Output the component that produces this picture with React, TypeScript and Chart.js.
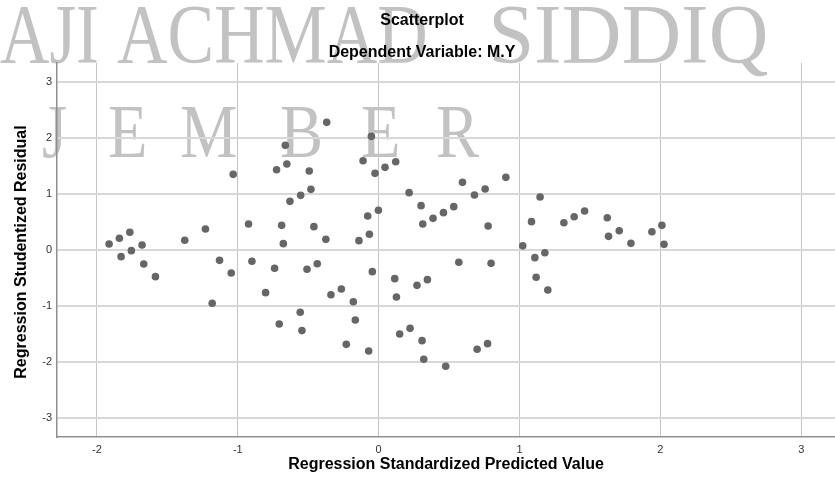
import React, { useEffect, useRef } from "react";
import { Chart, registerables } from "chart.js";

Chart.register(...registerables);

// ---- data ----
const X_VALUES = [
  -1.914, -1.841, -1.767, -1.68, -1.829, -1.756, -1.377, -1.23, -1.033, -0.924,
  -0.725, -0.663, -0.652, -0.493, -0.481, -0.554, -0.63, -0.689, -0.677, -0.46,
  -0.375, -0.369, -1.13, -0.9, -1.668, -1.585, -1.047, -1.182, -0.739, -0.803,
  -0.706, -0.509, -0.436, -0.557, -0.545, -0.052, -0.111, -0.026, 0.045, 0.121,
  -0.14, -0.066, -0.078, -0.002, 0.216, 0.301, 0.313, 0.386, 0.46, 0.533,
  0.595, 0.68, 0.756, 0.903, 0.777, 1.146, 1.085, 1.023, 1.109, 1.18,
  1.315, 1.388, 1.462, 1.623, 1.632, 1.708, 1.791, 1.94, 2.011, 2.026,
  -0.045, -0.339, -0.265, -0.18, -0.166, -0.23, -0.071, 0.114, 0.126, 0.272,
  0.346, 0.149, 0.223, 0.308, 0.32, 0.476, 0.569, 0.798, 0.699, 0.773,
  1.118, 1.201,
];
const Y_VALUES = [
  0.107, 0.21, 0.316, 0.09, -0.119, -0.012, 0.173, 0.375, 1.351, 0.464,
  1.434, 1.869, 1.536, 1.41, 1.083, 0.976, 0.869, 0.44, 0.113, 0.417,
  0.19, 2.28, -0.185, -0.202, -0.25, -0.476, -0.41, -0.952, -0.327, -0.762,
  -1.321, -0.345, -0.245, -1.113, -1.44, 2.03, 1.595, 1.369, 1.476, 1.577,
  0.167, 0.28, 0.607, 0.709, 1.024, 0.792, 0.464, 0.565, 0.667, 0.774,
  1.208, 0.982, 1.089, 1.298, 0.429, 0.946, 0.506, 0.074, -0.137, -0.048,
  0.488, 0.595, 0.696, 0.577, 0.244, 0.345, 0.119, 0.327, 0.44, 0.101,
  -0.387, -0.798, -0.696, -0.923, -1.25, -1.685, -1.804, -0.512, -0.839, -0.631,
  -0.53, -1.5, -1.399, -1.619, -1.952, -2.077, -0.22, -0.238, -1.774, -1.673,
  -0.488, -0.714,
];
const X_TICKS = [-2, -1, 0, 1, 2, 3];
const Y_TICKS = [-3, -2, -1, 0, 1, 2, 3];
const X_MIN = -2.284;
const X_MAX = 3.24;
const Y_MIN = -3.34;
const Y_MAX = 3.34;

const TITLE_LINES = ["Scatterplot", "Dependent Variable: M.Y"];
const X_TITLE = "Regression Standardized Predicted Value";
const Y_TITLE = "Regression Studentized Residual";
const WATERMARK_WORDS = ["AJI", "ACHMAD", "SIDDIQ"];
const WATERMARK_LINE2 = ["J", "E", "M", "B", "E", "R"];

// ---- styling (placement of decoration only) ----
const WM1_SPANS = [
  [0, 97],
  [117, 425],
  [493, 767],
];
const WM2_X = [42, 108, 180, 280, 361, 436];
const SANS = '"Liberation Sans", Arial, sans-serif';
const SERIF = '"Liberation Serif", "Times New Roman", serif';

const decorPlugin = {
  id: "decor",
  beforeDraw(chart: any) {
    const ctx = chart.ctx as CanvasRenderingContext2D;
    ctx.save();
    ctx.fillStyle = "#ffffff";
    ctx.fillRect(0, 0, chart.width, chart.height);
    ctx.fillStyle = "#c2c2c2";
    ctx.textBaseline = "alphabetic";
    ctx.textAlign = "left";
    ctx.font = `85px ${SERIF}`;
    WATERMARK_WORDS.forEach((word, i) => {
      const m = ctx.measureText(word);
      const left = m.actualBoundingBoxLeft || 0;
      const gw = (m.actualBoundingBoxRight || m.width) + left;
      const [a, b] = WM1_SPANS[i];
      const sx = (b - a) / gw;
      ctx.save();
      ctx.translate(a, 63);
      ctx.scale(sx, 1);
      ctx.fillText(word, left, 0);
      ctx.restore();
    });
    ctx.font = `76px ${SERIF}`;
    WATERMARK_LINE2.forEach((ch, i) => {
      ctx.save();
      ctx.translate(WM2_X[i], 157);
      ctx.scale(0.85, 1);
      ctx.fillText(ch, 0, 0);
      ctx.restore();
    });
    ctx.restore();
  },
  afterDraw(chart: any) {
    const ctx = chart.ctx as CanvasRenderingContext2D;
    const area = chart.chartArea;
    ctx.save();
    ctx.fillStyle = "#000000";
    ctx.font = `bold 16px ${SANS}`;
    ctx.textAlign = "center";
    ctx.textBaseline = "middle";
    ctx.fillText(TITLE_LINES[0], 422, 21);
    ctx.fillText(TITLE_LINES[1], 422, 53);
    ctx.fillText(X_TITLE, (area.left + Math.min(area.right, 835)) / 2, 465);
    ctx.save();
    ctx.translate(22, (area.top + area.bottom) / 2 + 2);
    ctx.rotate(-Math.PI / 2);
    ctx.fillText(Y_TITLE, 0, 0);
    ctx.restore();
    ctx.restore();
  },
};

export default function App() {
  const canvasRef = useRef<HTMLCanvasElement | null>(null);

  useEffect(() => {
    if (!canvasRef.current) return;
    const points = X_VALUES.map((x, i) => ({ x, y: Y_VALUES[i] }));
    const chart = new Chart(canvasRef.current, {
      type: "scatter",
      data: {
        datasets: [
          {
            data: points,
            backgroundColor: "#666666",
            borderWidth: 0,
            pointRadius: 3.8,
            pointHoverRadius: 3.8,
          },
        ],
      },
      options: {
        animation: false,
        responsive: false,
        events: [],
        layout: { autoPadding: false, padding: { top: 63, left: 0, right: -4, bottom: 0 } },
        plugins: {
          legend: { display: false },
          tooltip: { enabled: false },
          title: { display: false },
        },
        scales: {
          x: {
            type: "linear",
            min: X_MIN,
            max: X_MAX,
            afterBuildTicks: (scale: any) => {
              scale.ticks = X_TICKS.map((v) => ({ value: v }));
            },
            afterFit: (scale: any) => {
              scale.height = 50;
              scale.paddingLeft = 0;
              scale.paddingRight = 0;
            },
            grid: { color: "#c4c4c4", lineWidth: 1, drawTicks: false },
            border: { display: true, color: "#8f8f8f", width: 1.5 },
            ticks: {
              padding: 6,
              color: "#333333",
              font: { family: SANS, size: 11 },
              callback: (v: any) => String(v),
            },
          },
          y: {
            type: "linear",
            min: Y_MIN,
            max: Y_MAX,
            afterBuildTicks: (scale: any) => {
              scale.ticks = Y_TICKS.map((v) => ({ value: v }));
            },
            afterFit: (scale: any) => {
              scale.width = 57;
              scale.paddingTop = 0;
              scale.paddingBottom = 0;
            },
            grid: { color: "#d8d8d8", lineWidth: 2, drawTicks: false },
            border: { display: true, color: "#8f8f8f", width: 1.5 },
            ticks: {
              padding: 5,
              color: "#333333",
              font: { family: SANS, size: 11 },
              callback: (v: any) => String(v),
            },
          },
        },
      },
      plugins: [decorPlugin],
    });
    return () => chart.destroy();
  }, []);

  return (
    <div style={{ position: "absolute", left: 0, top: 0, width: 835, height: 487, background: "#fff" }}>
      <canvas ref={canvasRef} width={835} height={487} style={{ display: "block" }} />
    </div>
  );
}
